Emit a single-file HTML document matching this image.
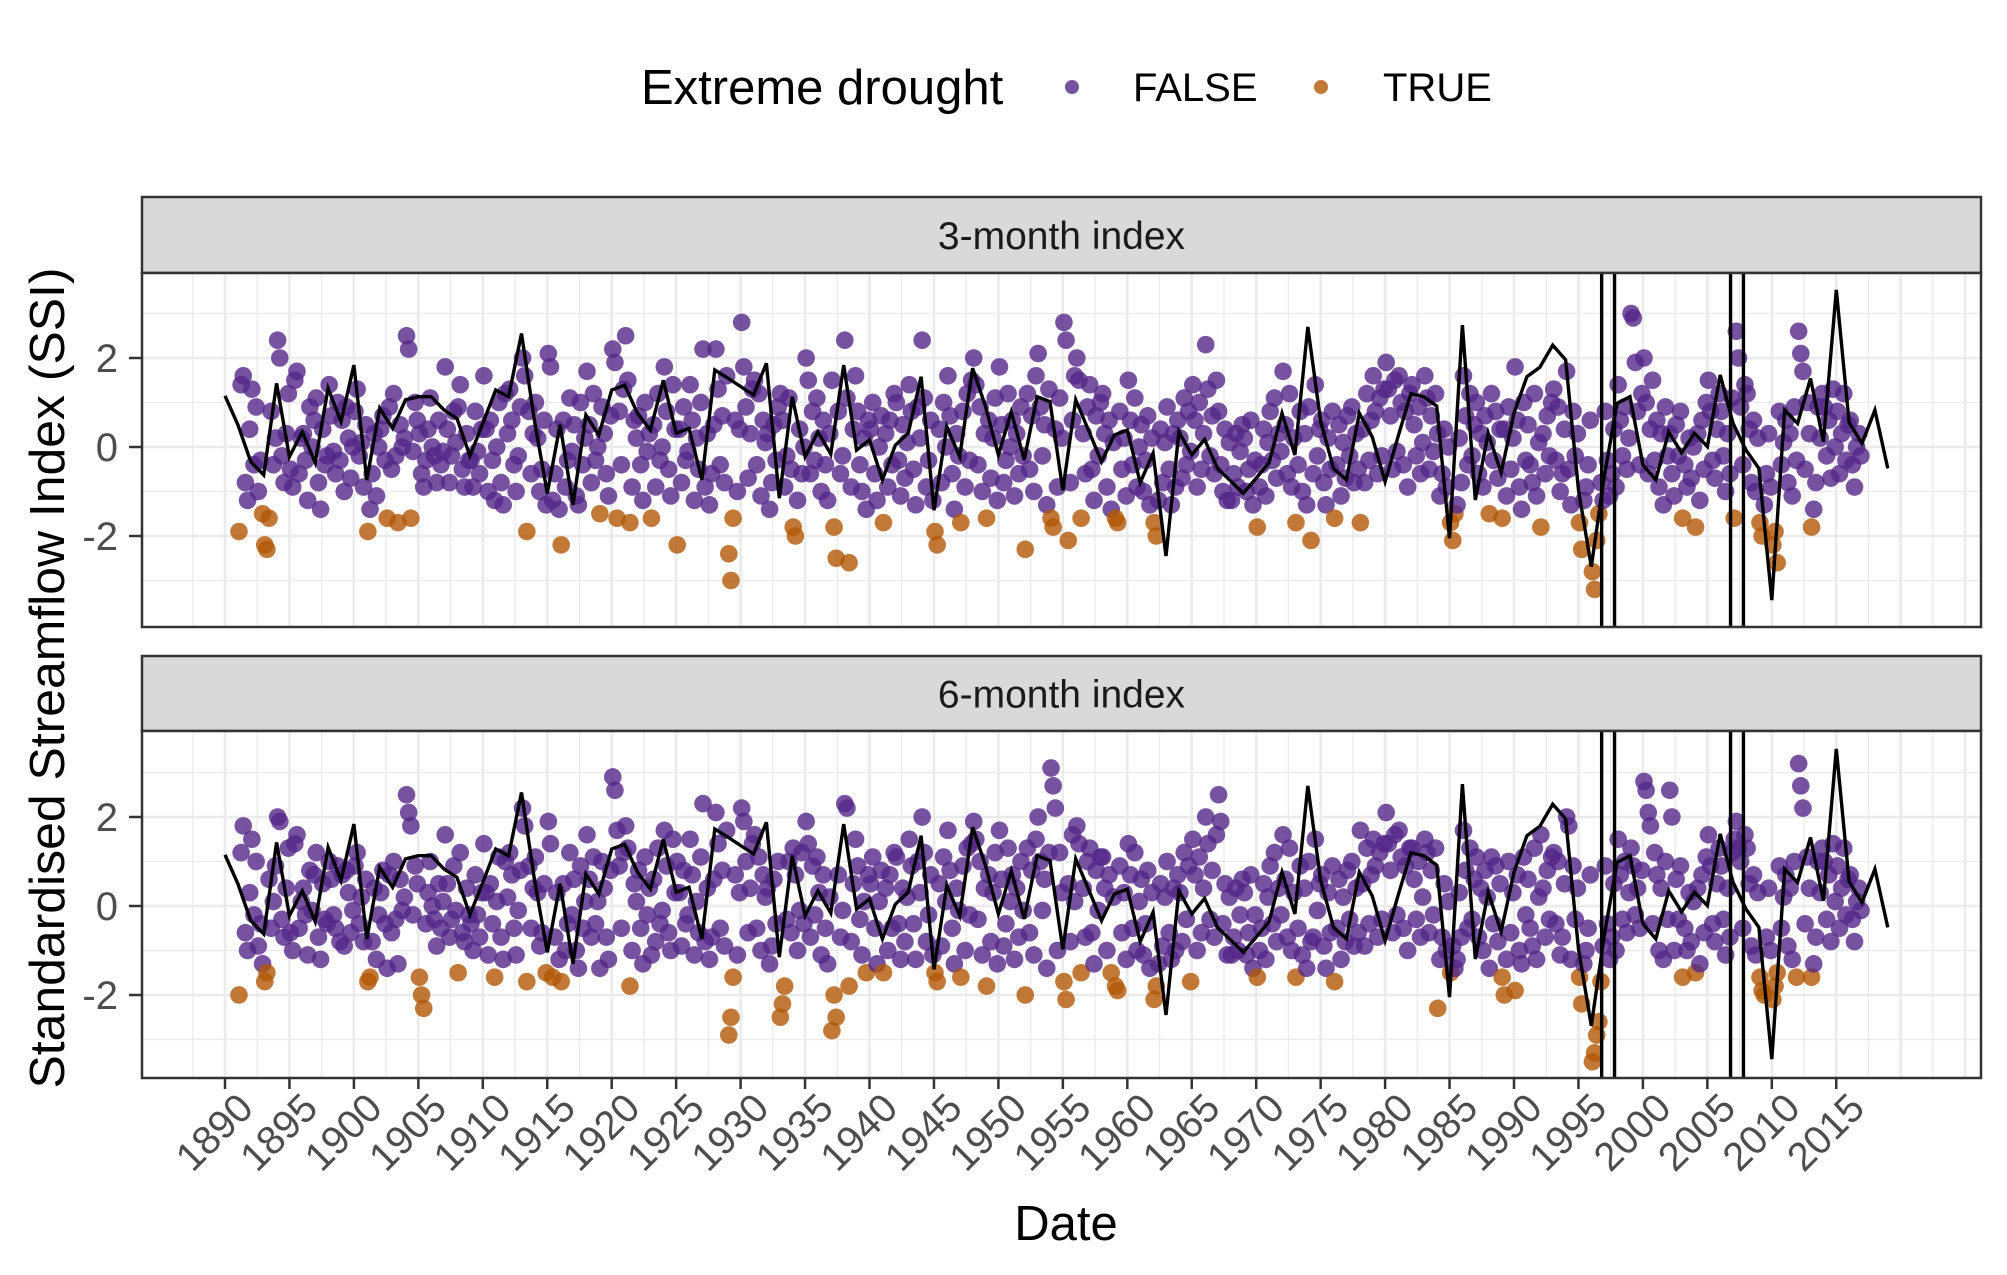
<!DOCTYPE html>
<html><head><meta charset="utf-8"><style>
html,body{margin:0;padding:0;background:#fff;}
svg{display:block;font-family:"Liberation Sans",Arial,sans-serif;}
</style></head><body>
<svg id="chart" width="2007" height="1275" viewBox="0 0 2007 1275" xmlns="http://www.w3.org/2000/svg">
<rect x="0" y="0" width="2007" height="1275" fill="#fff"/>
<g>
<text x="641" y="104" font-size="49" fill="#000">Extreme drought</text>
<circle cx="1072" cy="87" r="7" fill="#542788" fill-opacity="0.8"/>
<text x="1133" y="101" font-size="40" fill="#000">FALSE</text>
<circle cx="1321" cy="87" r="7" fill="#b35806" fill-opacity="0.8"/>
<text x="1383" y="101" font-size="40" fill="#000">TRUE</text>
</g>
<text transform="translate(64,678) rotate(-90)" text-anchor="middle" font-size="49" textLength="821" lengthAdjust="spacingAndGlyphs" fill="#000">Standardised Streamflow Index (SSI)</text>
<text x="1066" y="1240" text-anchor="middle" font-size="49" fill="#000">Date</text>
<g id="plots"></g>
</svg>
<script>
const lineYears = [1890,2019];
const lineValues = [1.15,0.5,-0.33,-0.63,1.43,-0.22,0.34,-0.35,1.32,0.57,1.84,-0.74,0.87,0.42,1.06,1.13,1.13,0.83,0.64,-0.2,0.53,1.28,1.13,2.55,0.6,-1.04,0.5,-1.3,0.72,0.27,1.28,1.39,0.76,0.38,1.5,0.31,0.42,-0.74,1.73,1.55,1.36,1.17,1.88,-1.15,1.13,-0.22,0.34,-0.16,1.84,-0.07,0.16,-0.74,0.04,0.31,1.58,-1.42,0.46,-0.22,1.77,0.91,-0.18,0.79,-0.29,1.13,1.02,-0.97,1.06,0.37,-0.33,0.27,0.38,-0.8,-0.14,-2.45,0.34,-0.18,0.17,-0.48,-0.76,-1.04,-0.7,-0.35,0.76,-0.18,2.7,0.57,-0.48,-0.74,0.76,0.23,-0.78,0.23,1.2,1.13,0.92,-2.05,2.74,-1.19,0.31,-0.58,0.76,1.58,1.79,2.29,1.96,-0.97,-2.69,-0.67,0.98,1.13,-0.4,-0.74,0.34,-0.13,0.31,0.01,1.62,0.53,-0.07,-0.48,-3.44,0.83,0.53,1.54,0.12,3.53,0.55,0.08,0.83,-0.48];
const pointStartYear = 1891;
const ssi3 = [
[-19,14,16,-8,-12,4],[13,-4,9,-10,-3,-15],[-22,-23,-16,8,-4,2],[24,20,-2,-8,3,12],[-5,-9,15,17,-6,2],[3,-3,-12,9,0,6],[11,-8,-14,4,-4,-2],[14,7,-1,-6,10,-3],[6,-10,9,2,-7,0],[8,13,-2,1,-9,5],
[-19,-14,-6,3,-11,0],[4,7,-3,-16,9,-5],[12,-2,-17,5,0,2],[25,22,-16,-1,10,6],[3,-6,-9,-3,4,11],[0,-2,-8,6,-4,-1],[18,4,-8,-2,8,1],[9,14,-5,-9,3,-3],[-3,-9,8,-1,-6,4],[16,4,-10,6,-3,-12],
[0,10,-8,-13,12,3],[13,6,-4,-10,-2,9],[20,16,-19,8,-6,3],[10,2,-10,-5,6,-13],[21,18,-12,-6,4,-14],[-22,6,-9,-3,11,-1],[5,-11,-13,10,-4,2],[17,5,-8,12,-3,0],[-15,9,3,-6,-11,7],[22,19,-16,8,-4,13],
[25,15,-17,-9,6,2],[7,-4,-12,10,-1,3],[-16,5,-9,12,-3,0],[18,8,-5,-11,14,4],[-22,4,-8,9,-3,-1],[14,6,-12,2,-5,10],[22,-9,3,-13,-6,5],[22,13,-4,7,-8,16],[-24,-30,-16,6,-10,4],[28,18,9,-7,3,13],
[15,-4,12,-11,6,1],[3,-14,-8,5,-3,9],[12,6,-9,-2,11,-5],[-18,-20,-12,4,-6,0],[20,15,-6,8,-3,11],[2,-10,6,-4,-12,3],[15,-18,-25,8,-6,-2],[24,11,-26,-9,4,16],[8,-4,-10,2,-14,6],[4,10,-6,-12,0,7],
[-17,3,-9,6,-4,12],[10,-3,-11,5,-7,1],[14,8,-5,-13,9,2],[24,11,-9,-3,6,-12],[-19,-22,4,-8,10,0],[16,7,-6,-14,3,-2],[-17,8,-9,12,-3,15],[20,14,-4,9,-10,3],[-16,6,-7,2,11,-12],[18,5,-8,-3,12,0],
[6,-11,3,-6,9,-2],[-23,12,-5,7,-10,16],[21,9,-2,5,-13,13],[-16,-18,4,-9,11,2],[28,24,-21,-8,6,16],[20,15,-16,3,-6,9],[14,-5,-12,7,-2,10],[12,3,-9,6,-14,1],[-16,-17,8,-5,2,-11],[15,6,-4,11,-9,0],
[5,-10,-3,7,-13,2],[-17,-20,-12,4,-8,1],[9,-5,-13,3,-9,6],[2,-7,11,-4,8,-1],[14,6,-9,10,-5,3],[23,13,-2,7,-6,15],[8,-4,-10,4,-12,1],[-12,-6,3,-9,-1,5],[2,-10,-5,6,-13,-3],[-18,-9,-4,4,-11,1],
[8,-3,11,-7,3,-1],[17,5,-6,12,-9,2],[-17,-4,8,-10,3,-13],[9,-21,-6,14,-2,4],[6,-8,-13,2,-5,8],[-16,-4,5,-11,1,-7],[7,-2,9,-8,3,-5],[-17,4,-8,12,-3,6],[16,8,-6,11,-2,13],[19,13,7,-5,15,-1],
[16,10,-4,8,-9,12],[14,5,-2,9,-6,1],[16,11,-5,7,-1,12],[3,-11,-6,4,-9,0],[-17,-21,-15,-13,2,-8],[16,7,-4,12,-2,5],[10,-6,3,-9,7,1],[-15,12,-3,8,-7,4],[-16,4,-11,9,-5,2],[18,6,-9,-14,10,-3],
[5,-4,-8,12,-11,1],[-18,3,-6,7,-2,10],[13,-3,9,-10,-6,4],[17,-5,-13,8,-2,3],[-17,-23,-12,-9,-4,6],[-28,-32,-21,-15,-8,-12],[8,-3,-11,-6,4,-9],[14,6,-2,9,-5,2],[30,29,19,8,-4,12],[20,10,-6,4,15,-3],
[6,-9,3,-13,9,-2],[3,-6,-11,5,-2,8],[-16,-4,-9,2,-7,0],[-18,3,-12,6,-5,10],[15,8,-3,-7,4,12],[8,-2,-10,3,-6,11],[-16,26,20,9,-4,14],[12,4,-8,6,-10,2],[-17,-20,-13,-6,3,-9],[-22,-19,-26,8,-4,1],
[6,-8,3,-11,9,-3],[26,21,17,-5,10,3],[-18,-14,-8,9,2,12],[9,-2,6,-7,13,0],[8,-6,3,12,-3,5],[6,-4,-9,0,3,-2]];
const ssi6 = [
[-20,12,18,-6,-10,3],[15,-2,10,-9,-4,-13],[-17,-15,6,-5,1,9],[20,19,-3,-7,4,13],[-6,-10,14,16,-5,1],[4,-2,-11,8,-1,7],[12,-7,-12,5,-3,-4],[10,6,-2,-5,9,-8],[7,-9,8,3,-6,-1],[9,12,-4,2,-8,6],
[-17,-16,-8,4,-12,-2],[3,8,-4,-14,7,-6],[10,-3,-13,6,-1,2],[25,21,18,-2,9,5],[-16,-20,-23,-4,3,10],[0,-3,-9,5,-5,1],[16,5,-7,-3,9,-1],[-15,12,-6,-8,4,-2],[-4,-10,7,-2,-7,3],[14,3,-11,5,-4,-16],
[1,11,-7,-12,10,2],[12,7,-5,-11,-1,8],[22,18,-17,9,-5,4],[11,3,-9,-6,5,-15],[19,14,-16,-7,3,-12],[-17,5,-10,-4,12,-2],[6,-10,-14,9,-5,1],[16,6,-7,11,-4,1],[-14,10,4,-7,-12,8],[29,26,17,9,-5,12],
[18,13,-18,-10,5,1],[8,-5,-13,11,-2,4],[-11,6,-8,13,-4,-1],[17,9,-6,-10,15,3],[10,3,-9,8,-4,-2],[15,7,-11,1,-6,11],[23,-8,4,-12,-7,6],[21,14,-5,8,-9,17],[-29,-25,-16,7,-11,3],[22,19,10,-6,4,14],
[16,-5,11,-10,7,2],[4,-13,-9,6,-4,10],[-25,-22,-18,-3,10,-6],[13,7,-10,-1,12,-4],[19,14,-7,9,-2,11],[3,-11,7,-5,-13,2],[-28,-20,-25,7,-7,-1],[23,22,-18,-8,5,15],[9,-3,-11,1,-15,7],[5,11,-5,-13,1,8],
[-15,4,-10,7,-5,12],[11,-4,-12,4,-8,2],[15,9,-4,-12,10,3],[20,12,-8,-2,7,-11],[-15,-17,5,-9,11,1],[17,8,-5,-13,4,-1],[-16,9,-10,13,-2,14],[19,15,-3,10,-11,4],[-18,7,-8,3,12,-13],[17,6,-9,-4,13,1],
[7,-12,4,-7,10,-1],[-20,13,-6,8,-11,15],[20,10,-1,6,-14,12],[31,27,22,-10,12,3],[-17,-21,5,-8,16,1],[18,14,-15,4,-7,10],[13,-6,-13,8,-1,11],[11,4,-10,7,-15,2],[-18,-19,9,-6,3,-12],[14,7,-5,12,-10,1],
[6,-11,-4,8,-14,3],[-21,-18,-13,5,-9,2],[10,-6,-12,4,-10,7],[3,-8,12,-3,9,-17],[15,7,-10,11,-6,4],[20,14,-3,8,-7,16],[25,19,-4,5,-11,2],[-11,-7,4,-10,-2,6],[3,-11,-6,7,-14,-2],[-16,-10,-5,5,-12,2],
[9,-4,12,-8,4,-2],[16,6,-7,13,-10,3],[-16,-5,9,-11,4,-14],[10,-8,-7,15,-1,5],[7,-9,-14,3,-6,9],[-17,-5,6,-12,2,-8],[8,-3,10,-9,4,-6],[17,5,-9,13,-4,7],[15,9,-7,12,-3,14],[21,14,8,-6,16,-2],
[17,11,-5,9,-10,13],[13,6,-3,10,-7,2],[15,12,-6,8,-2,13],[-23,-12,-7,5,-10,1],[-15,-9,-14,-12,3,-7],[17,8,-5,13,-3,6],[11,-7,4,-10,8,2],[-14,11,-4,9,-8,5],[-16,-20,-12,10,-6,3],[-19,7,-10,-13,11,-2],
[6,-5,-9,13,-12,2],[16,4,-7,8,-3,11],[12,-4,10,-11,-7,5],[20,18,-12,9,-3,4],[-16,-22,-13,-10,-5,7],[-35,-33,-29,-26,-17,-9],[9,-4,-12,-7,5,-10],[15,7,-3,10,-6,3],[13,9,-2,4,-5,8],[28,26,21,18,-4,12],
[7,-10,4,-12,10,-3],[26,20,-10,6,-3,9],[-16,-5,-10,3,-8,1],[-15,4,-13,7,-6,11],[16,9,-4,-8,5,13],[9,-3,-11,4,-7,12],[15,19,13,10,-5,16],[13,5,-9,7,-11,3],[-16,-19,-20,-7,4,-10],[-21,-18,-15,9,-5,2],
[7,-9,4,-12,10,-16],[32,27,22,-4,11,4],[-16,-13,-7,10,3,13],[10,-3,7,-8,14,1],[9,-5,4,13,-2,6],[7,-3,-8,1,4,-1]];
const eventLines = [1996.8,1997.8,2006.8,2007.8];
const xTickYears = [1890,1895,1900,1905,1910,1915,1920,1925,1930,1935,1940,1945,1950,1955,1960,1965,1970,1975,1980,1985,1990,1995,2000,2005,2010,2015];
const yTickValues = [-2,0,2];
const yTickLabels = ["-2","0","2"];
const droughtThreshold = -1.5;

const NS = "http://www.w3.org/2000/svg";
const X0 = 142, X1 = 1981, YR0 = 1890, PXYR = 12.89, XBASE = 225;
function xs(yr){ return XBASE + (yr - YR0) * PXYR; }
function mk(tag, attrs, parent){ const e = document.createElementNS(NS, tag); for (const k in attrs) e.setAttribute(k, attrs[k]); parent.appendChild(e); return e; }
const plots = document.getElementById('plots');
const panels = [
 {title:"3-month index", stripTop:197, top:273, bottom:627, zero:447, data:ssi3, key:"3-month"},
 {title:"6-month index", stripTop:656, top:731, bottom:1078, zero:906, data:ssi6, key:"6-month"}
];
const PXU = 44.5;
panels.forEach((p, pi) => {
  const ys = v => p.zero - v * PXU;
  const g = mk('g', {}, plots);
  
  
  const strip = mk('rect', {x:X0, y:p.stripTop, width:X1-X0, height:p.top-p.stripTop, fill:'#d9d9d9', stroke:'#333', 'stroke-width':2.5}, g);
  
  
  const st = mk('text', {x:(X0+X1)/2, y:(p.stripTop+p.top)/2 + 14, 'text-anchor':'middle', 'font-size':39, fill:'#1a1a1a'}, g);
  st.textContent = p.title;
  
  
  const bg = mk('rect', {x:X0, y:p.top, width:X1-X0, height:p.bottom-p.top, fill:'#fff'}, g);
  
  
  const grid = mk('g', {}, g);
  
  
  for (let yr = 1887.5; yr <= 2025; yr += 2.5) {
    const x = xs(yr); if (x < X0 || x > X1) continue;
    const major = Math.abs(yr % 5) < 0.01;
    mk('line', {x1:x, x2:x, y1:p.top, y2:p.bottom, stroke:'#ebebeb', 'stroke-width': major ? 2.6 : 1.3}, grid);
  }
  for (let v = -3; v <= 3; v++) {
    const y = ys(v); const major = v % 2 === 0;
    mk('line', {x1:X0, x2:X1, y1:y, y2:y, stroke:'#ebebeb', 'stroke-width': major ? 2.6 : 1.3}, grid);
  }
  const pts = mk('g', {}, g);
  
  
  p.data.forEach((yearVals, i) => {
    yearVals.forEach((tv, m) => {
      const v = tv / 10;
      const c = mk('circle', {cx: xs(pointStartYear + i + (m + 0.5) / yearVals.length), cy: ys(v), r: 8.8,
        fill: v <= droughtThreshold ? '#b35806' : '#542788', 'fill-opacity': 0.8}, pts);
      
      
    });
  });
  const d = lineValues.map((v, i) => (i ? 'L' : 'M') + xs(lineYears[0] + i).toFixed(1) + ',' + ys(v).toFixed(1)).join(' ');
  const ln = mk('path', {d:d, fill:'none', stroke:'#000', 'stroke-width':3.4, 'stroke-linejoin':'miter'}, g);
  
  
  eventLines.forEach(yr => {
    const el = mk('line', {x1:xs(yr), x2:xs(yr), y1:p.top, y2:p.bottom, stroke:'#000', 'stroke-width':3.4}, g);
    
    
  });
  const border = mk('rect', {x:X0, y:p.top, width:X1-X0, height:p.bottom-p.top, fill:'none', stroke:'#333', 'stroke-width':2.5}, g);
  
  
  yTickValues.forEach((v, i) => {
    const y = ys(v);
    const tk = mk('line', {x1:129, x2:X0, y1:y, y2:y, stroke:'#333', 'stroke-width':2.5}, g);
    
    
    const t = mk('text', {x:118, y:y + 14, 'text-anchor':'end', 'font-size':40, fill:'#4d4d4d'}, g);
    t.textContent = yTickLabels[i];
    
    
  });
  if (pi === 1) {
    xTickYears.forEach(yr => {
      const x = xs(yr);
      const tk = mk('line', {x1:x, x2:x, y1:p.bottom, y2:p.bottom + 11, stroke:'#333', 'stroke-width':2.5}, g);
      
      
      const t = mk('text', {transform:'translate(' + (x + 10) + ',' + (p.bottom + 12) + ') rotate(-45)', 'text-anchor':'end', dy:'0.72em', 'font-size':40, fill:'#4d4d4d'}, g);
      t.textContent = String(yr);
      
      
    });
  }
});
</script>
</body></html>
